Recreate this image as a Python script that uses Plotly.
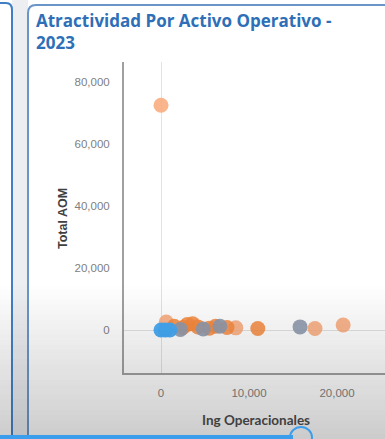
import plotly.graph_objects as go

# ---------------- data ----------------
peach_x = [0, 600, 8500, 17500, 20700]
peach_y = [72500, 2600, 700, 500, 1600]
orange_x = [1500, 2500, 3000, 3600, 4200, 5500, 6200, 7500, 11000]
orange_y = [1200, 800, 1800, 2000, 1000, 600, 1200, 800, 500]
grey_x = [2200, 4800, 6700, 15800]
grey_y = [200, 300, 1200, 1000]
blue_x = [0, 500, 1000]
blue_y = [0, 0, 0]

x_ticks = [0, 10000, 20000]
y_ticks = [0, 20000, 40000, 60000, 80000]

title_text = "Atractividad Por Activo Operativo -<br>2023"
x_title = "Ing Operacionales"
y_title = "Total AOM"

# ---------------- geometry ----------------
W, H = 385, 439
ML, MR, MT, MB = 124, 0, 62, 66
PW = W - ML - MR
PH = H - MT - MB


def px(x):
    return (x - ML) / PW


def py(y):
    return (H - MB - y) / PH


fig = go.Figure()

series = [
    (peach_x, peach_y, "#f9a878", 0.85),
    (orange_x, orange_y, "#f7883c", 0.85),
    (grey_x, grey_y, "#8e9aae", 0.9),
    (blue_x, blue_y, "#42a8f4", 0.95),
]
for xs, ys, col, op in series:
    fig.add_trace(go.Scatter(
        x=xs, y=ys, mode="markers",
        marker=dict(size=15, color=col, opacity=op, line=dict(width=0)),
        showlegend=False, hoverinfo="x+y",
    ))

tickfont = dict(family="Liberation Sans, Arial, sans-serif", size=11.5, color="#808080")

fig.update_xaxes(
    range=[-4205, 25455], tickvals=x_ticks, tickformat=",d",
    showgrid=False, zeroline=True, zerolinecolor="#e2e2e2", zerolinewidth=1,
    showline=True, linecolor="#a0a0a0", linewidth=2,
    tickfont=tickfont, ticklabelstandoff=8,
)
fig.update_yaxes(
    range=[-13871, 86452], tickvals=y_ticks, tickformat=",d",
    showgrid=False, zeroline=True, zerolinecolor="#e2e2e2", zerolinewidth=1,
    showline=True, linecolor="#a0a0a0", linewidth=2,
    tickfont=tickfont, ticklabelstandoff=10,
)

annotations = [
    dict(text=title_text, x=px(34), y=py(7), xref="paper", yref="paper",
         xanchor="left", yanchor="top", align="left", showarrow=False,
         font=dict(family="Open Sans, sans-serif", size=17, color="#2e6fb7", weight="bold")),
    dict(text=x_title, x=px(256), y=py(420), xref="paper", yref="paper",
         xanchor="center", yanchor="middle", showarrow=False,
         font=dict(family="Lato, sans-serif", size=13.5, color="#404040", weight="bold")),
    dict(text=y_title, x=px(63), y=py(219), xref="paper", yref="paper",
         xanchor="center", yanchor="middle", showarrow=False, textangle=-90,
         font=dict(family="Liberation Sans, Arial, sans-serif", size=12.5, color="#404040", weight="bold")),
]

shapes = []
# gap between panels
shapes.append(dict(type="rect", xref="paper", yref="paper", x0=px(12), x1=px(28), y0=py(H), y1=py(0),
                   fillcolor="#eceef2", line=dict(width=0), layer="below"))
# left panel border
shapes.append(dict(type="path", xref="paper", yref="paper",
                   path=f"M {px(0)},{py(3)} L {px(6)},{py(3)} Q {px(12)},{py(3)} {px(12)},{py(10)} L {px(12)},{py(H)}",
                   line=dict(color="#3f7fc6", width=2), layer="above"))
# card border
shapes.append(dict(type="path", xref="paper", yref="paper",
                   path=f"M {px(28)},{py(H)} L {px(28)},{py(13)} Q {px(28)},{py(5)} {px(36)},{py(5)} L {px(W)},{py(5)}",
                   line=dict(color="#6a95c8", width=2), layer="above"))
# bottom darkening gradient
y0, y1 = 285, H
n = 31
step = (y1 - y0) / n
for i in range(n):
    a = 0.24 * (i + 0.5) / n
    shapes.append(dict(type="rect", xref="paper", yref="paper",
                       x0=px(0), x1=px(W), y0=py(y0 + (i + 1) * step), y1=py(y0 + i * step),
                       fillcolor=f"rgba(40,40,40,{a:.3f})", line=dict(width=0), layer="above"))
# bottom blue bar and handle
shapes.append(dict(type="rect", xref="paper", yref="paper", x0=px(0), x1=px(293), y0=py(H + 1), y1=py(435),
                   fillcolor="#3b9eec", line=dict(width=0), layer="above"))
shapes.append(dict(type="circle", xref="paper", yref="paper", x0=px(290), x1=px(312), y0=py(448), y1=py(427),
                   fillcolor="rgba(0,0,0,0)", line=dict(color="#3b9eec", width=2), layer="above"))

fig.update_layout(
    width=W, height=H,
    margin=dict(l=ML, r=MR, t=MT, b=MB, pad=0),
    paper_bgcolor="white", plot_bgcolor="white",
    annotations=annotations, shapes=shapes,
)

fig.write_html("out.html", config={"displayModeBar": False})
